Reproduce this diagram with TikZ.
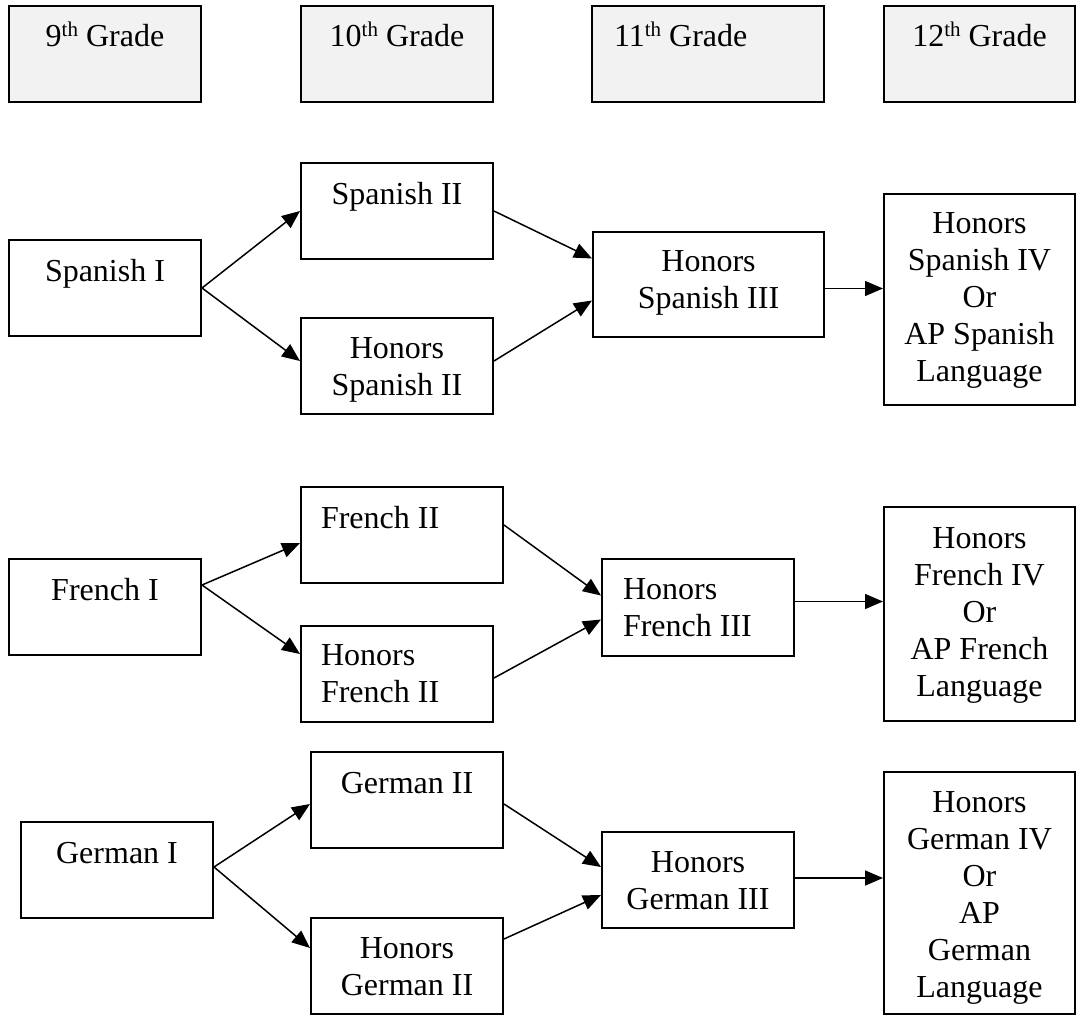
\documentclass[tikz,border=0pt]{standalone}
\usepackage{fontspec}
\setmainfont{Liberation Serif}
\usetikzlibrary{arrows.meta}
\definecolor{gradefill}{HTML}{F2F2F2}
% ordinal suffix, raised and reduced
\newcommand{\gsup}[1]{\raisebox{10pt}{\fontsize{21}{21}\selectfont #1}}

\begin{document}
\begin{tikzpicture}[x=1pt, y=-1pt,
  box/.style={draw, line width=2pt, inner sep=0pt, anchor=north west,
    align=flush center, font=\fontsize{32}{37}\selectfont},
  lbox/.style={box, align=flush left, inner xsep=#1},
  grade/.style={box, fill=gradefill},
  dims/.style n args={3}{text width=#1pt, text height=#2pt, text depth=#3pt},
  arr/.style={-{Triangle[length=18pt,width=15pt]}, line width=1.5pt},
]
\useasboundingbox (0,0) rectangle (1082,1021);

% grade headers
\node[grade, dims={192}{40}{56}] (g9)  at (8,5)   {9\gsup{th} Grade};
\node[grade, dims={192}{40}{56}] (g10) at (300,5) {10\gsup{th} Grade};
\node[grade, lbox=22pt, dims={188}{40}{56}] (g11) at (591,5) {11\gsup{th} Grade};
\node[grade, dims={191}{40}{56}] (g12) at (883,5) {12\gsup{th} Grade};

% Spanish track
\node[box, dims={192}{41}{55}] (sp1)  at (8,239)   {Spanish I};
\node[box, dims={192}{41}{55}] (sp2)  at (300,162) {Spanish II};
\node[box, dims={192}{40}{56}] (hsp2) at (300,317) {Honors\\Spanish II};
\node[box, dims={231}{39}{66}] (sp3)  at (592,231) {Honors\\Spanish III};
\node[box, dims={191}{39}{172}] (sp4) at (883,193) {Honors\\Spanish IV\\Or\\AP Spanish\\Language};

\draw[arr] (sp1.east) -- (sp2.west);
\draw[arr] (sp1.east) -- ([yshift=5pt]hsp2.west);
\draw[arr] (sp2.east) -- ([yshift=26pt]sp3.west);
\draw[arr] ([yshift=5pt]hsp2.east) -- ([yshift=-16pt]sp3.west);
\path ([yshift=-4pt]sp3.east) coordinate (s34);
\draw[arr] (s34) -- (s34 -| sp4.west);

% French track
\node[box, dims={192}{41}{55}] (fr1) at (8,558) {French I};
\node[lbox=20pt, dims={162}{41}{55}] (fr2) at (300,486) {French II};
\node[lbox=20pt, dims={152}{39.5}{56.5}] (hfr2) at (300,625) {Honors\\French II};
\node[lbox=21pt, dims={150}{40.5}{56.5}] (fr3) at (601,558) {Honors\\French III};
\node[box, dims={191}{41}{173}] (fr4) at (883,506) {Honors\\French IV\\Or\\AP French\\Language};

\draw[arr] ([yshift=22pt]fr1.east) -- ([yshift=-8pt]fr2.west);
\draw[arr] ([yshift=22pt]fr1.east) -- ([yshift=20pt]hfr2.west);
\draw[arr] ([yshift=10pt]fr2.east) -- ([yshift=12pt]fr3.west);
\draw[arr] ([yshift=-4pt]hfr2.east) -- ([yshift=-12pt]fr3.west);
\path ([yshift=6pt]fr3.east) coordinate (f34);
\draw[arr] (f34) -- (f34 -| fr4.west);

% German track
\node[box, dims={192}{41}{55}] (ge1)  at (20,821)  {German I};
\node[box, dims={192}{41}{55}] (ge2)  at (310,751) {German II};
\node[box, dims={192}{40}{56}] (hge2) at (310,917) {Honors\\German II};
\node[box, dims={192}{40}{56}] (ge3)  at (601,831) {Honors\\German III};
\node[box, dims={191}{40}{202}] (ge4) at (883,771) {Honors\\German IV\\Or\\AP\\German\\Language};

\draw[arr] ([yshift=3pt]ge1.east) -- ([yshift=-4pt]ge2.west);
\draw[arr] ([yshift=3pt]ge1.east) -- ([yshift=18pt]hge2.west);
\draw[arr] ([yshift=-4pt]ge2.east) -- ([yshift=13pt]ge3.west);
\draw[arr] ([yshift=27pt]hge2.east) -- ([yshift=-15pt]ge3.west);
\path ([yshift=2pt]ge3.east) coordinate (g34);
\draw[arr] (g34) -- (g34 -| ge4.west);
\end{tikzpicture}
\end{document}
